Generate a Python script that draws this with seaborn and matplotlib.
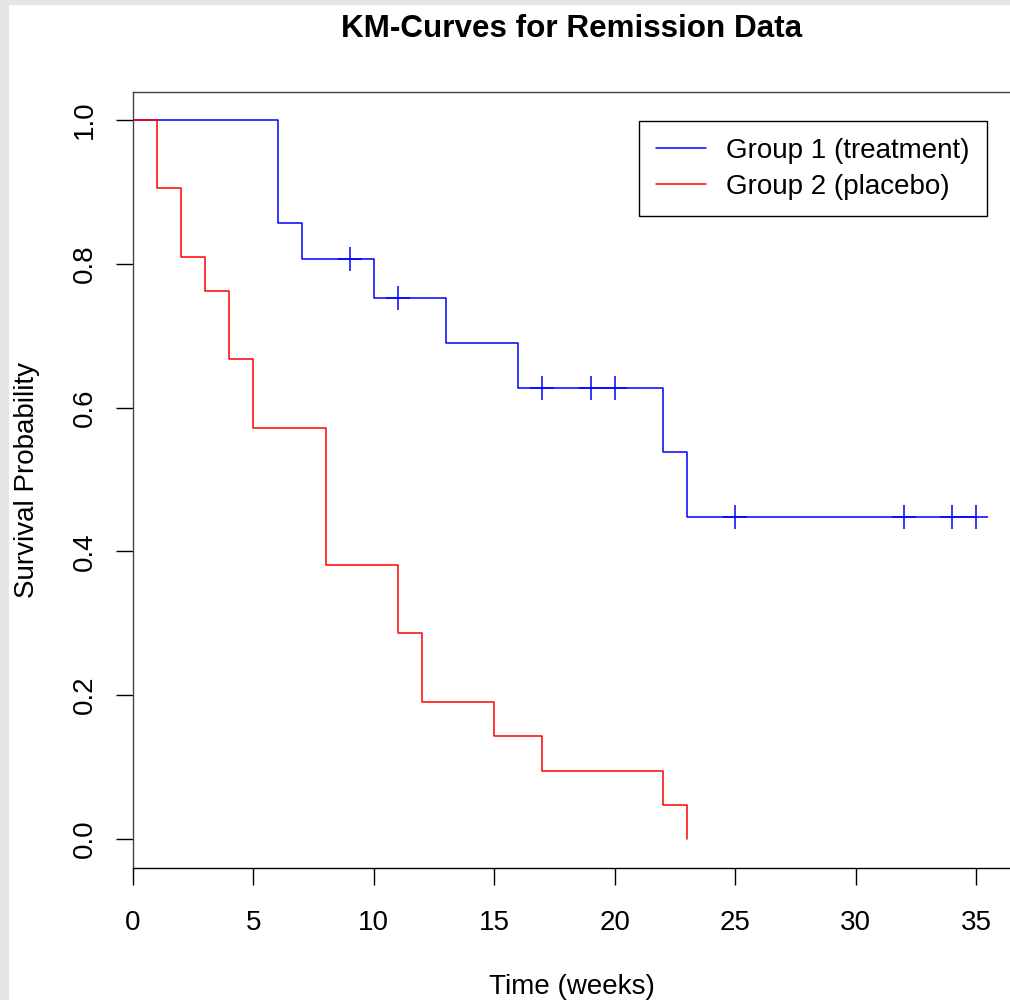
import matplotlib
matplotlib.use("Agg")
import matplotlib.pyplot as plt
from matplotlib.patches import Rectangle
from matplotlib.lines import Line2D
import seaborn as sns
import pandas as pd

# Kaplan-Meier step values
g1_time = [0, 6, 7, 10, 13, 16, 22, 23, 35]
g1_surv = [1.0, 0.857, 0.807, 0.753, 0.690, 0.627, 0.538, 0.448, 0.448]
g2_time = [0, 1, 2, 3, 4, 5, 8, 11, 12, 15, 17, 22, 23]
g2_surv = [1.0, 0.905, 0.810, 0.762, 0.667, 0.571, 0.381, 0.286, 0.190, 0.143, 0.095, 0.048, 0.0]
# censoring marks (group 1)
cens_time = [9, 11, 17, 19, 20, 25, 32, 34, 35]
cens_surv = [0.807, 0.753, 0.627, 0.627, 0.627, 0.448, 0.448, 0.448, 0.448]

groups = ["Group 1 (treatment)", "Group 2 (placebo)"]
colors = {"Group 1 (treatment)": "#0000ff", "Group 2 (placebo)": "#ff0000"}
x_ticks = [0, 5, 10, 15, 20, 25, 30, 35]
y_ticks = [0.0, 0.2, 0.4, 0.6, 0.8, 1.0]
y_tick_labels = ["0.0", "0.2", "0.4", "0.6", "0.8", "1.0"]

df = pd.concat([
    pd.DataFrame({"time": g1_time, "surv": g1_surv, "group": groups[0]}),
    pd.DataFrame({"time": g2_time, "surv": g2_surv, "group": groups[1]}),
], ignore_index=True)
cens = pd.DataFrame({"time": cens_time, "surv": cens_surv})

sns.set_style("white")
plt.rcParams["font.family"] = ["Liberation Sans", "DejaVu Sans"]
plt.rcParams["text.color"] = "#000000"
plt.rcParams["axes.labelcolor"] = "#000000"

fig = plt.figure(figsize=(10.1, 10.0), dpi=100)
W, H = 1010, 1000
left, right, top, bottom = 133, 1014.6, 92, 868
ax = fig.add_axes([left / W, 1 - bottom / H, (right - left) / W, (bottom - top) / H])

# grey frame strips
fig.patches.append(Rectangle((0, 0), 8 / W, 1, transform=fig.transFigure,
                             color="#e6e6e6", zorder=0))
fig.patches.append(Rectangle((0, 1 - 4 / H), 1, 4 / H, transform=fig.transFigure,
                             color="#e6e6e6", zorder=0))

sns.lineplot(data=df, x="time", y="surv", hue="group", palette=colors,
             estimator=None, sort=False, drawstyle="steps-post",
             linewidth=1.1, legend=False, ax=ax)
sns.scatterplot(data=cens, x="time", y="surv", marker="+", color="#0000ff",
                s=300, linewidth=1.1, legend=False, ax=ax, zorder=3)

ax.set_xlim(0, 36.6)
ax.set_ylim(-0.0403, 1.0389)
ax.set_xticks(x_ticks)
ax.set_yticks(y_ticks)
ax.set_yticklabels(y_tick_labels, rotation=90, va="center")

for s in ax.spines.values():
    s.set_color("#444444")
    s.set_linewidth(1.0)
ax.spines["bottom"].set_color("#000000")

ax.tick_params(axis="both", which="major", direction="out", length=12,
               width=1.0, color="#000000", labelsize=20, labelcolor="#000000",
               bottom=True, left=True)
ax.tick_params(axis="x", pad=18)
ax.tick_params(axis="y", pad=13)

ax.set_xlabel("Time (weeks)", fontsize=20, color="#000000")
ax.set_ylabel("Survival Probability", fontsize=20, color="#000000")
ax.xaxis.set_label_coords((572 - left) / (right - left), (bottom - 987) / (bottom - top))
ax.xaxis.label.set_verticalalignment("center")
ax.yaxis.set_label_coords((27 - left) / (right - left), (bottom - 480) / (bottom - top))
ax.yaxis.label.set_verticalalignment("center")

fig.text(572 / W, 1 - 29 / H, "KM-Curves for Remission Data", ha="center",
         va="center", fontsize=22.6, fontweight="bold", color="#000000")

handles = [Line2D([], [], color=colors[g], linewidth=1.1) for g in groups]
leg = ax.legend(handles, groups, loc="upper left",
                bbox_to_anchor=(639 / W, 1 - 121 / H),
                bbox_transform=fig.transFigure, fontsize=20, frameon=True,
                fancybox=False, edgecolor="#000000", framealpha=1,
                handlelength=1.8, handletextpad=0.75, labelspacing=0.36,
                borderpad=0.6, borderaxespad=0.0)
leg.get_frame().set_linewidth(1.0)
for t in leg.get_texts():
    t.set_color("#000000")

fig.savefig("out.png", dpi=100, facecolor="white")
